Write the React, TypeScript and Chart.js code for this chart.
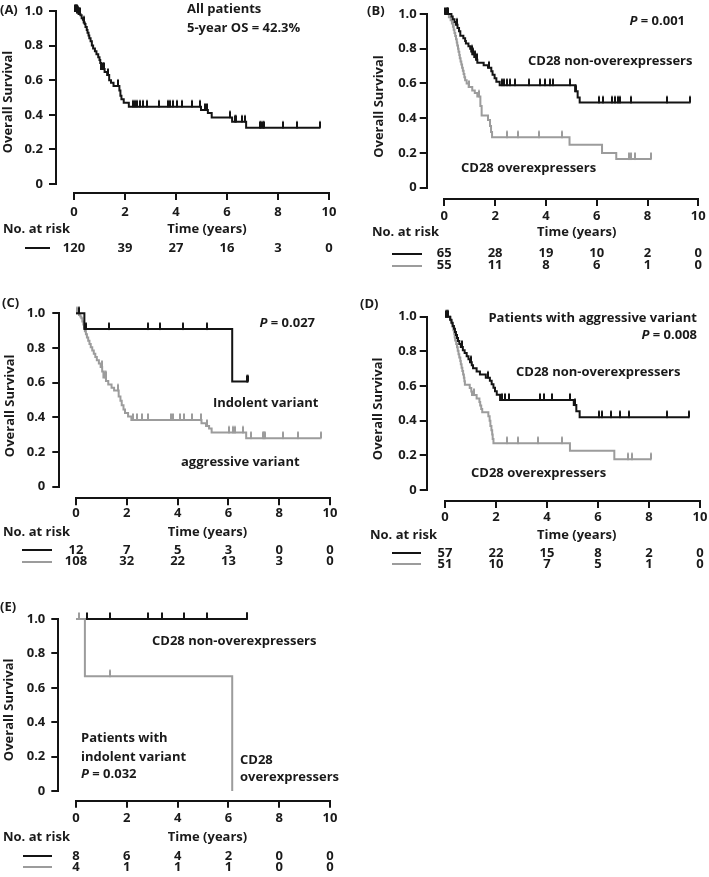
import React, { useEffect, useRef } from 'react';
import { Chart, registerables } from 'chart.js';

Chart.register(...registerables);

const FONT = '"Open Sans"';
const BLACK = '#141414';
const GRAY = '#9c9c9c';
const TEXT = '#1a1a1a';

// ---- shared axis values ----
const X_TICKS = [0, 2, 4, 6, 8, 10];
const Y_TICKS = [0, 0.2, 0.4, 0.6, 0.8, 1.0];
const RISK_TIMES = [0, 2, 4, 6, 8, 10];

// ---- (A) all patients ----
const A_ALL_T = [0.12, 0.18, 0.25, 0.30, 0.35, 0.38, 0.42, 0.45, 0.50, 0.53, 0.57, 0.60, 0.65, 0.70, 0.75, 0.82, 0.88, 0.95, 1.00, 1.03, 1.06, 1.20, 1.30, 1.38, 1.45, 1.55, 1.78, 1.82, 1.86, 1.95, 2.15, 4.98, 5.25, 5.40, 6.20, 6.75];
const A_ALL_S = [0.992, 0.983, 0.975, 0.958, 0.950, 0.933, 0.925, 0.908, 0.890, 0.875, 0.858, 0.842, 0.825, 0.800, 0.783, 0.767, 0.750, 0.733, 0.717, 0.700, 0.665, 0.648, 0.630, 0.600, 0.585, 0.567, 0.540, 0.510, 0.490, 0.470, 0.447, 0.428, 0.410, 0.385, 0.360, 0.325];
const A_ALL_C = [0.04, 0.07, 0.10, 0.13, 0.16, 0.19, 0.22, 0.40, 1.12, 1.17, 1.33, 1.73, 2.30, 2.39, 2.48, 2.59, 2.69, 2.85, 3.35, 3.67, 3.76, 3.87, 4.03, 4.25, 4.61, 4.94, 5.15, 5.20, 6.10, 6.30, 6.35, 6.58, 6.70, 7.30, 7.35, 7.40, 7.45, 8.20, 8.75, 9.64];
const A_ALL_RISK = [120, 39, 27, 16, 3, 0];

// ---- (B) CD28 ----
const B_NON_T = [0.28, 0.33, 0.40, 0.45, 0.52, 0.58, 0.63, 0.75, 0.82, 0.85, 0.95, 1.02, 1.06, 1.10, 1.18, 1.25, 1.30, 1.55, 1.72, 1.85, 1.90, 1.98, 2.05, 2.18, 5.15, 5.25, 5.33];
const B_NON_S = [0.985, 0.970, 0.954, 0.938, 0.920, 0.900, 0.875, 0.860, 0.845, 0.830, 0.815, 0.800, 0.784, 0.768, 0.752, 0.736, 0.720, 0.705, 0.690, 0.670, 0.650, 0.630, 0.610, 0.590, 0.555, 0.520, 0.490];
const B_NON_C = [0.04, 0.09, 0.14, 0.50, 1.08, 1.14, 1.20, 1.27, 1.77, 2.27, 2.36, 2.47, 2.60, 2.80, 3.32, 3.78, 3.95, 4.15, 4.28, 4.96, 5.20, 6.11, 6.23, 6.60, 6.73, 6.84, 6.93, 7.35, 8.77, 9.66];
const B_NON_RISK = [65, 28, 19, 10, 2, 0];

const B_OVER_T = [0.18, 0.25, 0.30, 0.34, 0.37, 0.40, 0.43, 0.46, 0.49, 0.51, 0.54, 0.56, 0.59, 0.61, 0.64, 0.67, 0.70, 0.73, 0.76, 0.79, 0.82, 0.88, 0.96, 1.10, 1.20, 1.30, 1.42, 1.47, 1.72, 1.80, 1.84, 1.88, 4.93, 6.21, 6.77];
const B_OVER_S = [0.982, 0.964, 0.945, 0.927, 0.909, 0.891, 0.873, 0.855, 0.836, 0.818, 0.800, 0.782, 0.764, 0.745, 0.727, 0.709, 0.691, 0.673, 0.655, 0.636, 0.618, 0.600, 0.580, 0.560, 0.545, 0.525, 0.470, 0.415, 0.390, 0.355, 0.320, 0.290, 0.247, 0.200, 0.165];
const B_OVER_C = [0.10, 0.98, 1.37, 2.47, 2.89, 3.72, 4.63, 7.26, 7.36, 7.49, 8.15];
const B_OVER_RISK = [55, 11, 8, 6, 1, 0];

// ---- (C) variant ----
const C_IND_T = [0.33, 6.15];
const C_IND_S = [0.909, 0.606];
const C_IND_C = [0.12, 0.39, 1.31, 2.84, 3.31, 4.22, 5.15, 6.73, 6.77];
const C_IND_RISK = [12, 7, 5, 3, 0, 0];

const C_AGG_T = [0.12, 0.17, 0.21, 0.25, 0.29, 0.32, 0.35, 0.39, 0.43, 0.48, 0.53, 0.58, 0.64, 0.70, 0.76, 0.82, 0.90, 0.97, 1.03, 1.08, 1.18, 1.27, 1.40, 1.50, 1.68, 1.75, 1.80, 1.87, 1.93, 2.05, 2.18, 4.94, 5.12, 5.24, 5.34, 6.70];
const C_AGG_S = [0.990, 0.981, 0.972, 0.953, 0.935, 0.916, 0.897, 0.879, 0.860, 0.842, 0.823, 0.804, 0.785, 0.767, 0.748, 0.729, 0.710, 0.690, 0.665, 0.630, 0.610, 0.590, 0.570, 0.555, 0.520, 0.495, 0.470, 0.445, 0.425, 0.405, 0.385, 0.366, 0.350, 0.335, 0.312, 0.280];
const C_AGG_C = [0.05, 1.02, 1.13, 1.17, 1.66, 2.26, 2.39, 2.59, 2.85, 3.73, 3.83, 4.09, 4.25, 4.56, 4.92, 5.17, 6.04, 6.20, 6.26, 6.56, 6.88, 7.37, 7.41, 7.44, 8.16, 8.73, 9.63];
const C_AGG_RISK = [108, 32, 22, 13, 3, 0];

// ---- (D) aggressive variant, CD28 ----
const D_NON_T = [0.20, 0.25, 0.30, 0.35, 0.39, 0.43, 0.47, 0.51, 0.56, 0.62, 0.70, 0.77, 0.85, 0.92, 0.98, 1.05, 1.10, 1.24, 1.37, 1.60, 1.76, 1.83, 1.90, 1.96, 2.03, 2.16, 5.05, 5.15, 5.28];
const D_NON_S = [0.982, 0.965, 0.947, 0.930, 0.912, 0.895, 0.877, 0.860, 0.842, 0.825, 0.807, 0.790, 0.772, 0.755, 0.737, 0.720, 0.702, 0.684, 0.666, 0.648, 0.630, 0.610, 0.590, 0.570, 0.550, 0.520, 0.490, 0.455, 0.420];
const D_NON_C = [0.03, 0.08, 0.13, 0.68, 1.00, 1.70, 2.22, 2.35, 2.50, 3.73, 3.90, 4.20, 4.90, 5.10, 6.05, 6.17, 6.51, 6.86, 7.23, 8.69, 9.58];
const D_NON_RISK = [57, 22, 15, 8, 2, 0];

const D_OVER_T = [0.22, 0.27, 0.30, 0.33, 0.36, 0.38, 0.40, 0.44, 0.47, 0.50, 0.53, 0.56, 0.60, 0.62, 0.65, 0.68, 0.71, 0.74, 0.76, 0.78, 0.97, 1.03, 1.06, 1.24, 1.35, 1.38, 1.42, 1.46, 1.70, 1.75, 1.78, 1.82, 1.85, 1.87, 1.90, 4.90, 6.64];
const D_OVER_S = [0.980, 0.961, 0.941, 0.922, 0.902, 0.882, 0.863, 0.843, 0.824, 0.804, 0.784, 0.765, 0.745, 0.725, 0.706, 0.686, 0.667, 0.647, 0.627, 0.608, 0.588, 0.568, 0.548, 0.528, 0.508, 0.488, 0.468, 0.448, 0.425, 0.400, 0.370, 0.345, 0.320, 0.295, 0.270, 0.227, 0.177];
const D_OVER_C = [0.10, 1.15, 2.42, 2.88, 3.64, 4.58, 7.19, 7.32, 8.08];
const D_OVER_RISK = [51, 10, 7, 5, 1, 0];

// ---- (E) indolent variant, CD28 ----
const E_NON_T: number[] = [];
const E_NON_S: number[] = [];
const E_NON_C = [0.42, 1.34, 2.85, 3.37, 4.26, 5.17, 6.72, 6.75];
const E_NON_RISK = [8, 6, 4, 2, 0, 0];

const E_OVER_T = [0.35, 6.15];
const E_OVER_S = [0.667, 0];
const E_OVER_C = [0.10, 1.34];
const E_OVER_RISK = [4, 1, 1, 1, 0, 0];

// ---------------------------------------------------------------
type Series = { t: number[]; s: number[]; c: number[]; risk: number[]; color: string; row: number };
type Part = { t: string; it?: boolean };
type Ann = { parts: Part[]; x: number; y: number; align?: 'left' | 'right' };
type Layout = {
  left: number; top: number; w: number; h: number;
  padLeft: number; yAxisX: number; x0: number; x10: number; y1: number; y0: number; xAxisY: number;
  yTickPad: number; xTickPad: number;
  labelX: number; labelY: number; timeX: number; timeY: number;
  riskX: number; riskY: number; rowsY: number[]; legX1: number; legX2: number;
};
type PanelCfg = { label: string; layout: Layout; series: Series[]; anns: Ann[] };

const FS = 13;
const X_SCALE_H = 30;

const txt = (t: string): Part[] => [{ t }];
const pval = (v: string): Part[] => [{ t: 'P', it: true }, { t: ' = ' + v }];

const PANELS: PanelCfg[] = [
  {
    label: '(A)',
    layout: { left: 0, top: 0, w: 354, h: 290, padLeft: 0.2, yAxisX: 56, x0: 74, x10: 329, y1: 11, y0: 184, xAxisY: 193,
      yTickPad: 6, xTickPad: 4, labelX: 0, labelY: 10, timeX: 207, timeY: 229, riskX: 3, riskY: 229, rowsY: [248], legX1: 25, legX2: 50 },
    series: [{ t: A_ALL_T, s: A_ALL_S, c: A_ALL_C, risk: A_ALL_RISK, color: BLACK, row: 0 }],
    anns: [
      { parts: txt('All patients'), x: 187, y: 9.5 },
      { parts: txt('5-year OS = 42.3%'), x: 187, y: 28 },
    ],
  },
  {
    label: '(B)',
    layout: { left: 355, top: 0, w: 354, h: 290, padLeft: 16.2, yAxisX: 71.7, x0: 89.3, x10: 343.3, y1: 14, y0: 187.7, xAxisY: 199,
      yTickPad: 3, xTickPad: 2, labelX: 12, labelY: 11, timeX: 221.7, timeY: 232, riskX: 17, riskY: 232, rowsY: [253.5, 265.5], legX1: 37, legX2: 67 },
    series: [
      { t: B_NON_T, s: B_NON_S, c: B_NON_C, risk: B_NON_RISK, color: BLACK, row: 0 },
      { t: B_OVER_T, s: B_OVER_S, c: B_OVER_C, risk: B_OVER_RISK, color: GRAY, row: 1 },
    ],
    anns: [
      { parts: pval('0.001'), x: 330, y: 21, align: 'right' },
      { parts: txt('CD28 non-overexpressers'), x: 173, y: 61 },
      { parts: txt('CD28 overexpressers'), x: 106, y: 168 },
    ],
  },
  {
    label: '(C)',
    layout: { left: 0, top: 290, w: 354, h: 290, padLeft: 2.2, yAxisX: 59.3, x0: 76, x10: 330, y1: 23.3, y0: 196.7, xAxisY: 208.3,
      yTickPad: 7, xTickPad: 0.5, labelX: 2, labelY: 13, timeX: 207.5, timeY: 242, riskX: 3, riskY: 242, rowsY: [260, 271.7], legX1: 22, legX2: 52 },
    series: [
      { t: C_IND_T, s: C_IND_S, c: C_IND_C, risk: C_IND_RISK, color: BLACK, row: 0 },
      { t: C_AGG_T, s: C_AGG_S, c: C_AGG_C, risk: C_AGG_RISK, color: GRAY, row: 1 },
    ],
    anns: [
      { parts: pval('0.027'), x: 315, y: 33, align: 'right' },
      { parts: txt('Indolent variant'), x: 213, y: 113 },
      { parts: txt('aggressive variant'), x: 181, y: 172 },
    ],
  },
  {
    label: '(D)',
    layout: { left: 355, top: 290, w: 354, h: 290, padLeft: 15.6, yAxisX: 71.7, x0: 90, x10: 345, y1: 26.7, y0: 200, xAxisY: 211,
      yTickPad: 3, xTickPad: 1, labelX: 5, labelY: 14, timeX: 221.7, timeY: 245, riskX: 15, riskY: 245, rowsY: [263.3, 274], legX1: 37, legX2: 66 },
    series: [
      { t: D_NON_T, s: D_NON_S, c: D_NON_C, risk: D_NON_RISK, color: BLACK, row: 0 },
      { t: D_OVER_T, s: D_OVER_S, c: D_OVER_C, risk: D_OVER_RISK, color: GRAY, row: 1 },
    ],
    anns: [
      { parts: txt('Patients with aggressive variant'), x: 342, y: 28, align: 'right' },
      { parts: pval('0.008'), x: 342, y: 45, align: 'right' },
      { parts: txt('CD28 non-overexpressers'), x: 161, y: 82 },
      { parts: txt('CD28 overexpressers'), x: 116, y: 183 },
    ],
  },
  {
    label: '(E)',
    layout: { left: 0, top: 580, w: 354, h: 297, padLeft: 1.2, yAxisX: 58.3, x0: 76, x10: 330, y1: 39, y0: 211, xAxisY: 220.7,
      yTickPad: 6, xTickPad: 3, labelX: 0, labelY: 27, timeX: 207.5, timeY: 257, riskX: 3, riskY: 257, rowsY: [276, 287.3], legX1: 23, legX2: 52 },
    series: [
      { t: E_OVER_T, s: E_OVER_S, c: E_OVER_C, risk: E_OVER_RISK, color: GRAY, row: 1 },
      { t: E_NON_T, s: E_NON_S, c: E_NON_C, risk: E_NON_RISK, color: BLACK, row: 0 },
    ],
    anns: [
      { parts: txt('CD28 non-overexpressers'), x: 152, y: 61 },
      { parts: txt('Patients with'), x: 81, y: 158 },
      { parts: txt('indolent variant'), x: 81, y: 177 },
      { parts: pval('0.032'), x: 81, y: 194.5 },
      { parts: txt('CD28'), x: 240, y: 180 },
      { parts: txt('overexpressers'), x: 240, y: 197 },
    ],
  },
];

// ---------------------------------------------------------------
function survAt(t: number[], s: number[], time: number) {
  let v = 1;
  for (let i = 0; i < t.length; i++) if (t[i] <= time) v = s[i];
  return v;
}

function curvePoints(se: Series) {
  const pts: { x: number; y: number }[] = [{ x: 0, y: 1 }];
  se.t.forEach((t, i) => pts.push({ x: t, y: se.s[i] }));
  const lastT = se.t.length ? se.t[se.t.length - 1] : 0;
  const end = Math.max(lastT, ...se.c);
  if (end > lastT) pts.push({ x: end, y: survAt(se.t, se.s, end) });
  return pts;
}

function censorPoints(se: Series) {
  return se.c.map((c) => ({ x: c, y: survAt(se.t, se.s, c) }));
}

function markImage(color: string) {
  const c = document.createElement('canvas');
  c.width = 2;
  c.height = 16;
  const g = c.getContext('2d')!;
  g.fillStyle = color;
  g.fillRect(0, 1.5, 2, 7);
  return c;
}

function drawParts(ctx: CanvasRenderingContext2D, parts: Part[], x: number, y: number, align: string) {
  const fonts = parts.map((p) => `${p.it ? 'italic ' : ''}bold ${FS}px ${FONT}`);
  const widths = parts.map((p, i) => {
    ctx.font = fonts[i];
    return ctx.measureText(p.t).width;
  });
  const total = widths.reduce((a, b) => a + b, 0);
  let cx = align === 'right' ? x - total : align === 'center' ? x - total / 2 : x;
  ctx.textAlign = 'left';
  ctx.textBaseline = 'middle';
  parts.forEach((p, i) => {
    ctx.font = fonts[i];
    ctx.fillText(p.t, cx, y);
    cx += widths[i];
  });
}

function buildChart(canvas: HTMLCanvasElement, cfg: PanelCfg) {
  const L = cfg.layout;
  const pxPerYear = (L.x10 - L.x0) / 10;
  const pxPerUnit = L.y0 - L.y1;
  const xmin = -(L.x0 - L.yAxisX) / pxPerYear;
  const ymin = -(L.xAxisY - L.y0) / pxPerUnit;
  const tickFont = { family: FONT, size: FS, weight: 'bold' as const };

  const datasets: any[] = [];
  cfg.series.forEach((se) => {
    datasets.push({
      data: censorPoints(se),
      pointStyle: markImage(se.color),
      pointRadius: 8,
      pointHoverRadius: 8,
      pointBorderWidth: 0,
      showLine: false,
      clip: false,
    });
    datasets.push({
      data: curvePoints(se),
      showLine: true,
      stepped: true,
      borderColor: se.color,
      borderWidth: 2,
      pointRadius: 0,
      pointHoverRadius: 0,
      fill: false,
      clip: false,
      borderCapStyle: 'butt',
      borderJoinStyle: 'miter',
    });
  });

  const decor = {
    id: 'kmDecor',
    afterDraw(chart: any) {
      const ctx: CanvasRenderingContext2D = chart.ctx;
      const xs = chart.scales.x;
      const ys = chart.scales.y;
      const area = chart.chartArea;
      ctx.save();
      ctx.strokeStyle = BLACK;
      ctx.lineWidth = 2;
      ctx.lineCap = 'butt';
      const yx = Math.round(area.left);
      ctx.beginPath();
      ctx.moveTo(yx, Math.round(ys.getPixelForValue(0)) + 1);
      ctx.lineTo(yx, Math.round(ys.getPixelForValue(1)) - 1);
      ctx.stroke();
      const xy = Math.round(area.bottom);
      ctx.beginPath();
      ctx.moveTo(Math.round(xs.getPixelForValue(0)) - 1, xy);
      ctx.lineTo(Math.round(xs.getPixelForValue(10)) + 1, xy);
      ctx.stroke();

      ctx.fillStyle = TEXT;
      drawParts(ctx, txt(cfg.label), L.labelX, L.labelY, 'left');
      cfg.anns.forEach((a) => drawParts(ctx, a.parts, a.x, a.y, a.align || 'left'));
      drawParts(ctx, txt('Time (years)'), L.timeX, L.timeY, 'center');
      drawParts(ctx, txt('No. at risk'), L.riskX, L.riskY, 'left');

      cfg.series.forEach((se) => {
        const ry = L.rowsY[se.row];
        ctx.strokeStyle = se.color;
        ctx.lineWidth = 2;
        ctx.beginPath();
        ctx.moveTo(L.legX1, Math.round(ry));
        ctx.lineTo(L.legX2, Math.round(ry));
        ctx.stroke();
        ctx.fillStyle = TEXT;
        ctx.font = `bold ${FS}px ${FONT}`;
        ctx.textAlign = 'center';
        ctx.textBaseline = 'middle';
        se.risk.forEach((n, j) => {
          ctx.fillText(String(n), xs.getPixelForValue(RISK_TIMES[j]), ry);
        });
      });
      ctx.restore();
    },
  };

  return new Chart(canvas, {
    type: 'scatter',
    data: { datasets },
    options: {
      responsive: false,
      animation: false,
      events: [],
      layout: { padding: { left: L.padLeft, top: L.y1, right: L.w - L.x10, bottom: L.h - L.xAxisY - X_SCALE_H } },
      plugins: { legend: { display: false }, tooltip: { enabled: false } },
      scales: {
        x: {
          type: 'linear',
          position: 'bottom',
          min: xmin,
          max: 10,
          afterBuildTicks: (sc: any) => {
            sc.ticks = X_TICKS.map((v) => ({ value: v }));
          },
          afterFit: (sc: any) => {
            sc.height = X_SCALE_H;
            sc.paddingLeft = 0;
            sc.paddingRight = 0;
          },
          grid: { drawOnChartArea: false, drawTicks: true, tickLength: 7, color: BLACK, tickColor: BLACK, lineWidth: 2 },
          border: { display: false },
          ticks: { font: tickFont, color: TEXT, padding: L.xTickPad, maxRotation: 0, autoSkip: false, callback: (v: any) => String(v) },
        },
        y: {
          type: 'linear',
          position: 'left',
          min: ymin,
          max: 1,
          afterBuildTicks: (sc: any) => {
            sc.ticks = Y_TICKS.map((v) => ({ value: v }));
          },
          afterFit: (sc: any) => {
            sc.width = L.yAxisX - L.padLeft;
            sc.paddingTop = 0;
            sc.paddingBottom = 0;
          },
          grid: { drawOnChartArea: false, drawTicks: true, tickLength: 7, color: BLACK, tickColor: BLACK, lineWidth: 2 },
          border: { display: false },
          ticks: { font: tickFont, color: TEXT, padding: L.yTickPad, autoSkip: false, callback: (v: any) => (v === 0 ? '0' : Number(v).toFixed(1)) },
          title: { display: true, text: 'Overall Survival', font: tickFont, color: TEXT, padding: 0 },
        },
      },
    } as any,
    plugins: [decor],
  });
}

function KMPanel({ cfg }: { cfg: PanelCfg }) {
  const ref = useRef<HTMLCanvasElement | null>(null);
  useEffect(() => {
    if (!ref.current) return;
    const chart = buildChart(ref.current, cfg);
    return () => chart.destroy();
  }, [cfg]);
  const L = cfg.layout;
  return (
    <canvas
      ref={ref}
      width={L.w}
      height={L.h}
      style={{ position: 'absolute', left: L.left, top: L.top, width: L.w, height: L.h }}
    />
  );
}

export default function App() {
  return (
    <div style={{ position: 'absolute', left: 0, top: 0, width: 709, height: 877, background: '#fff', overflow: 'hidden' }}>
      {PANELS.map((p) => (
        <KMPanel key={p.label} cfg={p} />
      ))}
    </div>
  );
}
